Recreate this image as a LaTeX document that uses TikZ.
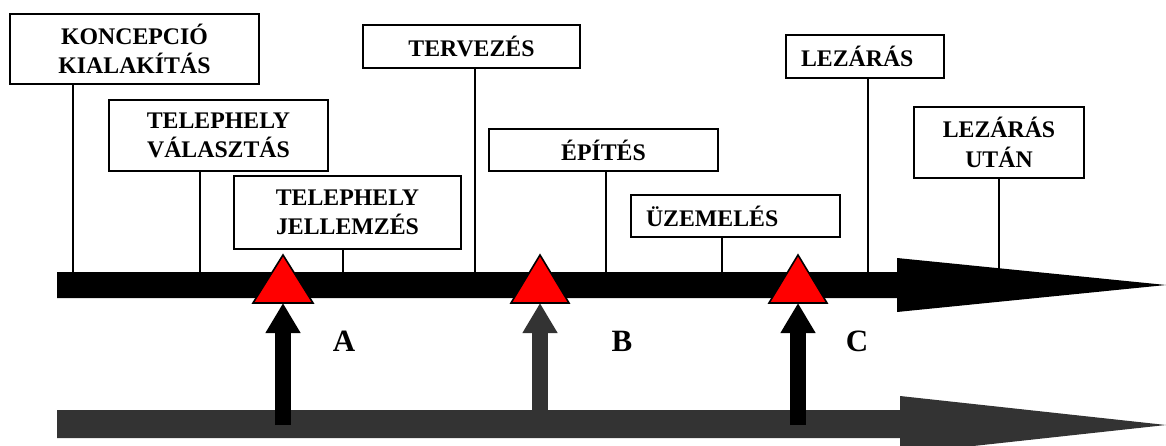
\documentclass[tikz,border=0pt]{standalone}
\usepackage{fontspec}
\setmainfont{Liberation Serif}
\usetikzlibrary{arrows.meta}
\definecolor{darkbar}{RGB}{51,51,51}
\definecolor{marker}{RGB}{255,0,0}
\tikzset{
  phase/.style={draw=black, line width=1.8pt, fill=white, inner sep=0pt,
    align=center, font=\fontsize{23.8}{29.5}\selectfont\bfseries},
  stem/.style={draw=black, line width=1.7pt},
  milestone/.style={draw=black, line width=1.6pt, fill=marker, line join=miter},
  lift/.style={line width=16pt, -{Triangle[width=33pt,length=30pt]}},
  gatelabel/.style={font=\fontsize{31}{31}\selectfont\bfseries, inner sep=0pt}
}
\begin{document}
\begin{tikzpicture}[x=1pt, y=-1pt]
\useasboundingbox (0,0) rectangle (1166,446);

% phase boxes
\node[phase, minimum width=249, minimum height=70] (kon) at (134.5,49) {KONCEPCIÓ\\KIALAKÍTÁS};
\node[phase, minimum width=219, minimum height=71] (val) at (218.5,135.5) {TELEPHELY\\VÁLASZTÁS};
\node[phase, minimum width=227, minimum height=73] (jel) at (347.5,212.5) {TELEPHELY\\JELLEMZÉS};
\node[phase, minimum width=217, minimum height=43] (ter) at (471.5,46.5) {TERVEZÉS};
\node[phase, minimum width=229, minimum height=42] (epi) at (603.5,150) {ÉPÍTÉS};
\node[phase, minimum width=209, minimum height=42, text width=179, align=left] (uze) at (735.5,216) {ÜZEMELÉS};
\node[phase, minimum width=158, minimum height=43, text width=128, align=left] (lez) at (865,56.5) {LEZÁRÁS};
\node[phase, minimum width=170, minimum height=71] (utan) at (999,142.5) {LEZÁRÁS\\UTÁN};

% feet of the stems on the time axis
\coordinate (f1) at (73,276);
\coordinate (f2) at (200,276);
\coordinate (f3) at (343,276);
\coordinate (f4) at (475,276);
\coordinate (f5) at (606,276);
\coordinate (f6) at (722,276);
\coordinate (f7) at (868,276);
\coordinate (f8) at (999,276);

\draw[stem] (f1 |- kon.south) -- (f1);
\draw[stem] (f2 |- val.south) -- (f2);
\draw[stem] (f3 |- jel.south) -- (f3);
\draw[stem] (f4 |- ter.south) -- (f4);
\draw[stem] (f5 |- epi.south) -- (f5);
\draw[stem] (f6 |- uze.south) -- (f6);
\draw[stem] (f7 |- lez.south) -- (f7);
\draw[stem] (f8 |- utan.south) -- (f8);

% upper time axis
\fill[black] (57,272) -- (897,272) -- (897,258) -- (1166,285) -- (897,312) -- (897,298) -- (57,298) -- cycle;
% lower time axis
\fill[darkbar] (57,410) -- (900,410) -- (900,396) -- (1166,425) -- (900,454) -- (900,438) -- (57,438) -- cycle;

% milestone triangles
\coordinate (ta) at (283,303);
\coordinate (tb) at (540,303);
\coordinate (tc) at (798,303);
\coordinate (sa) at (283,425);
\coordinate (sb) at (540,424);
\coordinate (sc) at (798,425);

\draw[lift, black] (sa) -- (ta);
\draw[lift, darkbar] (sb) -- (tb);
\draw[lift, black] (sc) -- (tc);

\draw[milestone] (ta) ++(-30,0) -- ++(30,-48) -- ++(30,48) -- cycle;
\draw[milestone] (tb) ++(-29,0) -- ++(29,-48) -- ++(29,48) -- cycle;
\draw[milestone] (tc) ++(-29,0) -- ++(29,-48) -- ++(29,48) -- cycle;

% gate labels
\node[gatelabel] (la) at (344,341) {A};
\node[gatelabel] (lb) at (622,341) {B};
\node[gatelabel] (lc) at (857,341) {C};
\end{tikzpicture}
\end{document}
